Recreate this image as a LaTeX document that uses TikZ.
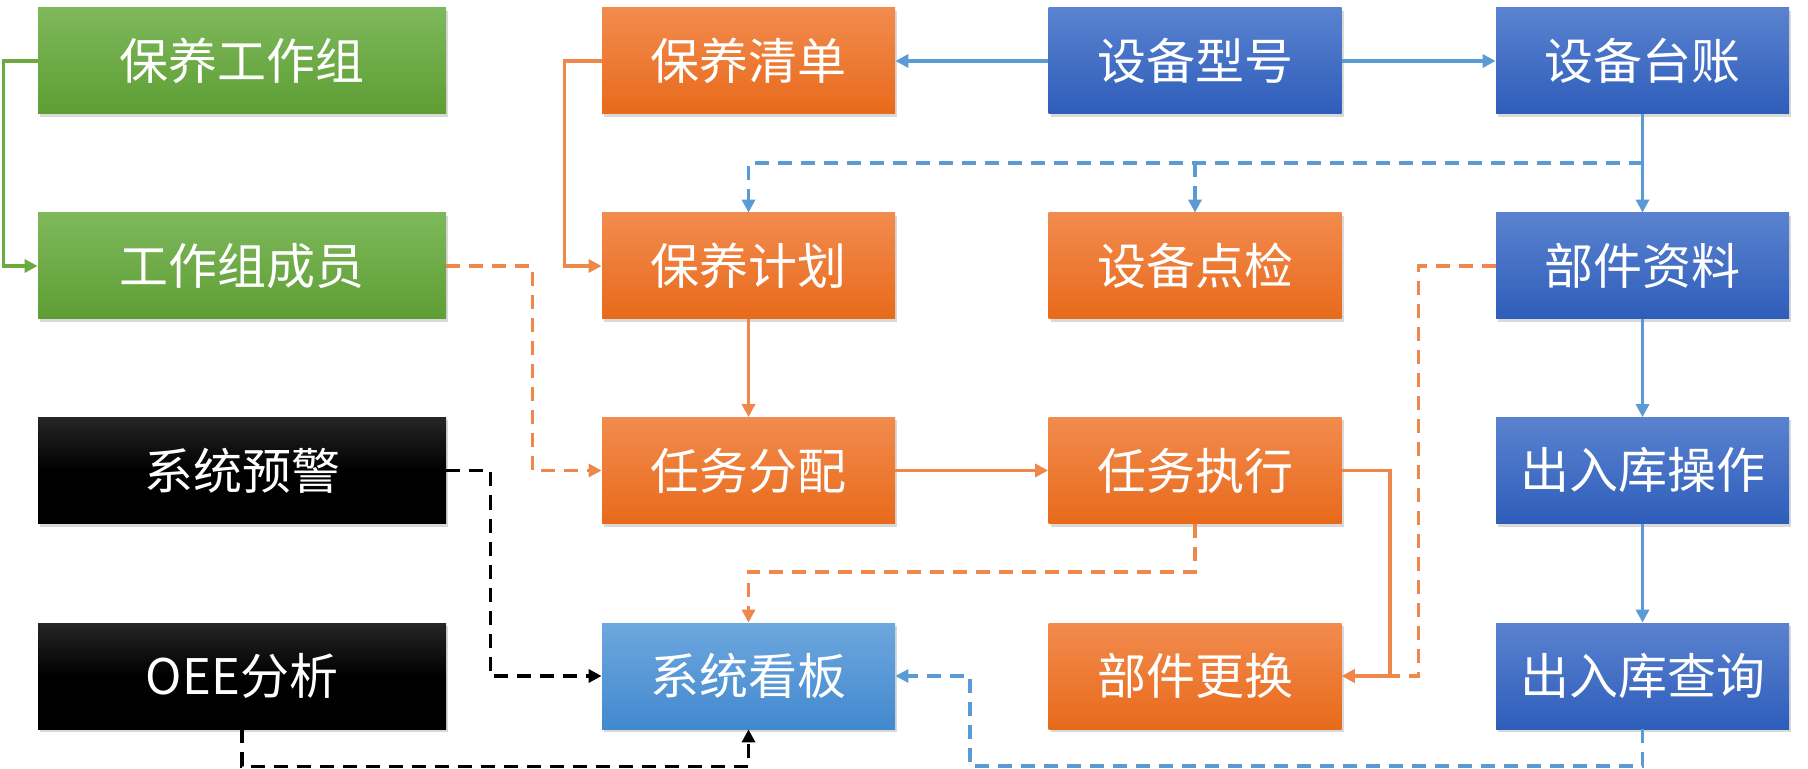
\documentclass[tikz,border=0pt]{standalone}
\usepackage{fontspec}
\newfontfamily\cjk{Noto Sans CJK SC}
\usetikzlibrary{shadows,arrows.meta}
\definecolor{gTop}{HTML}{7EB85B}
\definecolor{gBot}{HTML}{5E9E34}
\definecolor{oTop}{HTML}{F28B4E}
\definecolor{oBot}{HTML}{E86A1B}
\definecolor{bTop}{HTML}{5A82CF}
\definecolor{bBot}{HTML}{2E5DBA}
\definecolor{lTop}{HTML}{6DA7DE}
\definecolor{lBot}{HTML}{4389CF}
\definecolor{kTop}{HTML}{262626}
\definecolor{gLine}{HTML}{6AAA3F}
\definecolor{oLine}{HTML}{F0874A}
\definecolor{bLine}{HTML}{5B9BD5}
\begin{document}
\begin{tikzpicture}[x=0.5pt,y=-0.5pt,
  box/.style={minimum height=53pt, inner sep=0pt, text=white,
    font=\cjk\fontsize{24.5}{28}\selectfont,
    drop shadow={shadow xshift=1pt,shadow yshift=-1.5pt,opacity=0.3}},
  wide/.style={box, minimum width=204pt},
  narrow/.style={box, minimum width=146.5pt},
  gbox/.style={wide, top color=gTop, bottom color=gBot},
  kbox/.style={wide, top color=kTop, bottom color=black, middle color=black},
  obox/.style={narrow, top color=oTop, bottom color=oBot},
  bbox/.style={narrow, top color=bTop, bottom color=bBot},
  lbox/.style={narrow, top color=lTop, bottom color=lBot},
  conn/.style={line width=1.8pt, -{Triangle[length=6.5pt,width=6.5pt]}},
  dsh/.style={conn, dash pattern=on 7pt off 4.5pt},
  gl/.style={conn, draw=gLine},
  ol/.style={conn, draw=oLine},
  bl/.style={conn, draw=bLine},
  od/.style={dsh, draw=oLine},
  bd/.style={dsh, draw=bLine},
  kd/.style={dsh, draw=black}
]
\useasboundingbox (0,0) rectangle (1808,769);
% column 1
\node[gbox] (n11) at (242,61) {保养工作组};
\node[gbox] (n21) at (242,266) {工作组成员};
\node[kbox] (n31) at (242,470.5) {系统预警};
\node[kbox] (n41) at (242,676) {OEE分析};
% column 2
\node[obox] (n12) at (748.5,61) {保养清单};
\node[obox] (n22) at (748.5,266) {保养计划};
\node[obox] (n32) at (748.5,470.5) {任务分配};
\node[lbox] (n42) at (748.5,676) {系统看板};
% column 3
\node[bbox] (n13) at (1195,61) {设备型号};
\node[obox] (n23) at (1195,266) {设备点检};
\node[obox] (n33) at (1195,470.5) {任务执行};
\node[obox] (n43) at (1195,676) {部件更换};
% column 4
\node[bbox] (n14) at (1642.5,61) {设备台账};
\node[bbox] (n24) at (1642.5,266) {部件资料};
\node[bbox] (n34) at (1642.5,470.5) {出入库操作};
\node[bbox] (n44) at (1642.5,676) {出入库查询};

\coordinate (bj) at (1642.5,163);
\coordinate (bq) at (970,766);

% green
\draw[gl] (n11.west) -- ++(-34,0) |- (n21.west);
% orange solid
\draw[ol] (n12.west) -- ++(-37,0) |- (n22.west);
\draw[ol] (n22.south) -- (n32.north);
\draw[ol] (n32.east) -- (n33.west);
\draw[ol] (n33.east) -- ++(48,0) |- (n43.east);
% orange dashed
\draw[od] (n21.east) -- ++(86,0) |- (n32.west);
\draw[od] (n24.west) -- ++(-77,0) |- (n43.east);
\draw[od] (n33.south) -- ++(0,48) -| (n42.north);
% blue solid
\draw[bl] (n13.west) -- (n12.east);
\draw[bl] (n13.east) -- (n14.west);
\draw[bl] (n14.south) -- (n24.north);
\draw[bl] (n24.south) -- (n34.north);
\draw[bl] (n34.south) -- (n44.north);
% blue dashed
\draw[bd] (bj) -| (n22.north);
\draw[bd] (n23.north |- bj) -- (n23.north);
\draw[bd] (n44.south) |- (bq) -- (bq |- n42.east) -- (n42.east);
% black dashed
\draw[kd] (n31.east) -- ++(44,0) |- (n42.west);
\draw[kd] (n41.south) -- ++(0,37) -| (n42.south);
\end{tikzpicture}
\end{document}
